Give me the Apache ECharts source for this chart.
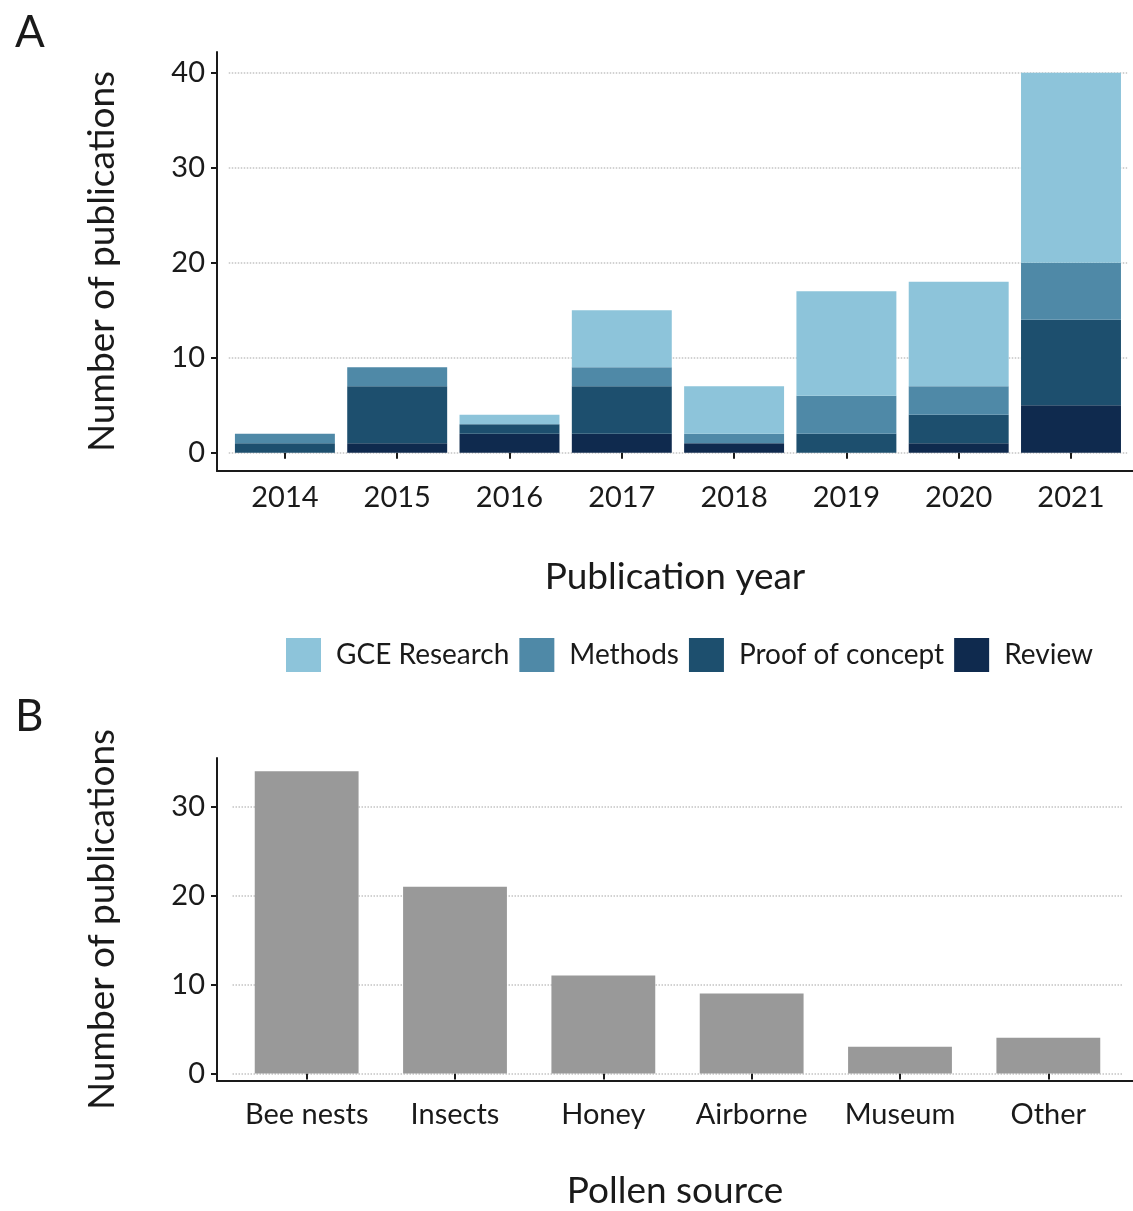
<!DOCTYPE html>
<html>
<head>
<meta charset="utf-8">
<script src="https://cdn.jsdelivr.net/npm/echarts@6/dist/echarts.min.js"></script>
<style>
  html, body { margin: 0; padding: 0; background: #fff; }
  #chart { width: 1133px; height: 1211px; }
</style>
</head>
<body>
<div id="chart"></div>
<script>
// panel A data
const years = ['2014', '2015', '2016', '2017', '2018', '2019', '2020', '2021']
const gceResearch = [0, 0, 1, 6, 5, 11, 11, 20]
const methods = [1, 2, 0, 2, 1, 4, 3, 6]
const proofOfConcept = [1, 6, 1, 5, 0, 2, 3, 9]
const review = [0, 1, 2, 2, 1, 0, 1, 5]

// panel B data
const sources = ['Bee nests', 'Insects', 'Honey', 'Airborne', 'Museum', 'Other']
const sourceCounts = [34, 21, 11, 9, 3, 4]

const font = 'Lato'
const ink = '#1a1a1a'
const colors = {
  gce: '#8dc4da',
  methods: '#4f89a7',
  proof: '#1d4f6e',
  review: '#0f2a4e'
}

const chart = echarts.init(document.getElementById('chart'))

const titleText = { fontFamily: font, fontSize: 37, color: ink }

// frame axes: axis lines + axis titles over the expanded (ggplot-like) range
function frameAxes(gridIndex, xName, yName, xGap) {
  return {
    x: {
      type: 'value', gridIndex, min: 0, max: 1,
      axisLine: { show: true, lineStyle: { color: ink, width: 2 } },
      axisTick: { show: false }, axisLabel: { show: false }, splitLine: { show: false },
      name: xName, nameLocation: 'middle', nameGap: xGap, nameTextStyle: titleText
    },
    y: {
      type: 'value', gridIndex, min: 0, max: 1,
      axisLine: { show: true, lineStyle: { color: ink, width: 2 } },
      axisTick: { show: false }, axisLabel: { show: false }, splitLine: { show: false },
      name: yName, nameLocation: 'middle', nameGap: 96, nameTextStyle: titleText
    }
  }
}

const frameA = frameAxes(0, 'Publication year', 'Number of publications', 88)
const frameB = frameAxes(2, 'Pollen source', 'Number of publications', 92)

const tickStyle = { show: true, length: 6, lineStyle: { color: ink, width: 2 } }
const tickLabel = { fontFamily: font, fontSize: 29, color: ink, margin: 12 }
const gridLine = { show: true, lineStyle: { color: '#c4c4c4', type: 'dotted', width: 1.5 } }

const option = {
  backgroundColor: '#fff',
  textStyle: { fontFamily: font },
  animation: false,
  title: [
    { text: 'A', left: 10, top: 6, textStyle: { fontFamily: font, fontSize: 44, fontWeight: 'normal', color: ink } },
    { text: 'B', left: 10, top: 690, textStyle: { fontFamily: font, fontSize: 44, fontWeight: 'normal', color: ink } }
  ],
  legend: {
    data: ['GCE Research', 'Methods', 'Proof of concept', 'Review'],
    left: 281,
    top: 633,
    icon: 'rect',
    itemWidth: 35,
    itemHeight: 34,
    itemGap: 10,
    textStyle: { fontFamily: font, fontSize: 28, color: ink, padding: [0, 0, 0, 10] }
  },
  grid: [
    // A frame
    { left: 217, top: 52, width: 916, height: 419 },
    // A plot
    { left: 228.75, top: 72.7, width: 898.4, height: 380 },
    // B frame
    { left: 217, top: 758, width: 916, height: 330 },
    // B plot
    { left: 232.5, top: 806.7, width: 890, height: 266.7 }
  ],
  xAxis: [
    frameA.x,
    {
      type: 'category', gridIndex: 1, data: years, offset: 18.3,
      axisLine: { show: false },
      axisTick: { ...tickStyle, alignWithLabel: true },
      axisLabel: { ...tickLabel, interval: 0 }
    },
    frameB.x,
    {
      type: 'category', gridIndex: 3, data: sources, offset: 15,
      axisLine: { show: false },
      axisTick: { ...tickStyle, alignWithLabel: true },
      axisLabel: { ...tickLabel, interval: 0 }
    }
  ],
  yAxis: [
    frameA.y,
    {
      type: 'value', gridIndex: 1, min: 0, max: 40, interval: 10, offset: 11.75,
      axisLine: { show: false },
      axisTick: tickStyle,
      axisLabel: tickLabel,
      splitLine: gridLine
    },
    frameB.y,
    {
      type: 'value', gridIndex: 3, min: 0, max: 30, interval: 10, offset: 15.5,
      axisLine: { show: false },
      axisTick: tickStyle,
      axisLabel: tickLabel,
      splitLine: gridLine
    }
  ],
  series: [
    { name: 'Review', type: 'bar', stack: 'a', xAxisIndex: 1, yAxisIndex: 1, data: review, itemStyle: { color: colors.review }, barCategoryGap: '11%' },
    { name: 'Proof of concept', type: 'bar', stack: 'a', xAxisIndex: 1, yAxisIndex: 1, data: proofOfConcept, itemStyle: { color: colors.proof } },
    { name: 'Methods', type: 'bar', stack: 'a', xAxisIndex: 1, yAxisIndex: 1, data: methods, itemStyle: { color: colors.methods } },
    { name: 'GCE Research', type: 'bar', stack: 'a', xAxisIndex: 1, yAxisIndex: 1, data: gceResearch, itemStyle: { color: colors.gce } },
    { name: 'Pollen source', type: 'bar', xAxisIndex: 3, yAxisIndex: 3, data: sourceCounts, clip: false, barCategoryGap: '30%', itemStyle: { color: '#999999' } }
  ]
}

chart.setOption(option)
</script>
</body>
</html>
